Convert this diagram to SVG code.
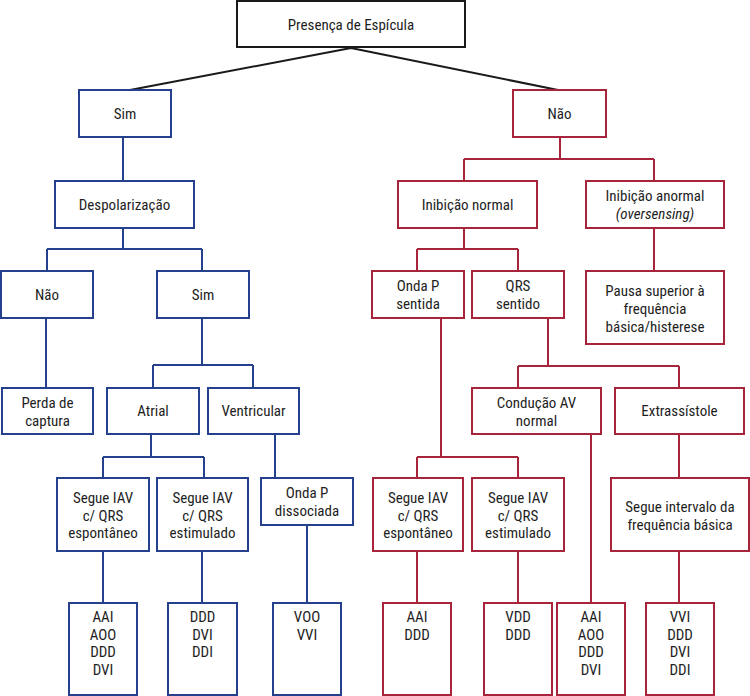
<svg xmlns="http://www.w3.org/2000/svg" width="750" height="696" viewBox="0 0 750 696">
<style>
rect{fill:#fff;stroke-width:2}
.k rect{stroke:#1a1a1a}
.b rect{stroke:#25418d}
.r rect{stroke:#a8243a}
text{font-family:"Liberation Sans Narrow","Roboto Condensed","Liberation Sans",Arial,sans-serif;font-size:15px;fill:#1e1e1e;text-anchor:middle}
.cb{fill:none;stroke:#25418d;stroke-width:2}
.cr{fill:none;stroke:#a8243a;stroke-width:2}
.ck{fill:none;stroke:#1a1a1a;stroke-width:2}
</style>
<rect x="0" y="0" width="750" height="696" style="stroke:none"/>
<g id="connectors">
<path class="ck" d="M351,48 L130,90 M351,48 L558,90"/>
<path class="cb" d="M123,137 V181 M123,228 V249 M47,249 H202 M47,249 V271 M202,249 V271 M46,318 V388 M202,318 V365 M153,365 H253 M153,365 V388 M253,365 V388 M151,434 V457 M103,457 H204 M103,457 V478 M204,457 V478 M275,434 V478 M103,551 V603 M202,551 V603 M307,525 V603"/>
<path class="cr" d="M560,137 V159 M464,159 H654 M464,159 V181 M654,159 V181 M464,228 V249 M417,249 H518 M417,249 V271 M518,249 V271 M654,228 V271 M441,318 V457 M417,457 H518 M417,457 V478 M518,457 V478 M548,318 V366 M518,366 H679 M518,366 V388 M679,366 V388 M591,434 V603 M679,434 V478 M417,551 V603 M518,551 V603 M679,551 V603"/>
</g>
<g id="n-root" class="k"><rect x="237" y="1" width="228" height="46"/><text x="351" y="30">Presença de Espícula</text></g>
<g id="n-sim" class="b"><rect x="79" y="90" width="92" height="47"/><text x="125" y="119">Sim</text></g>
<g id="n-despol" class="b"><rect x="55" y="181" width="139" height="47"/><text x="124.5" y="210">Despolarização</text></g>
<g id="n-nao2" class="b"><rect x="1" y="271" width="92" height="47"/><text x="47" y="300">Não</text></g>
<g id="n-sim2" class="b"><rect x="157" y="271" width="92" height="47"/><text x="203" y="300">Sim</text></g>
<g id="n-perda" class="b"><rect x="2" y="388" width="91" height="46"/><text x="47.5" y="408">Perda de</text><text x="47.5" y="426">captura</text></g>
<g id="n-atrial" class="b"><rect x="107" y="388" width="92" height="46"/><text x="153" y="416">Atrial</text></g>
<g id="n-ventr" class="b"><rect x="208" y="388" width="91" height="46"/><text x="253.5" y="416">Ventricular</text></g>
<g id="n-seg1" class="b"><rect x="57" y="478" width="92" height="73"/><text x="103" y="503">Segue IAV</text><text x="103" y="521">c/ QRS</text><text x="103" y="538">espontâneo</text></g>
<g id="n-seg2" class="b"><rect x="157" y="478" width="91" height="73"/><text x="202.5" y="503">Segue IAV</text><text x="202.5" y="521">c/ QRS</text><text x="202.5" y="538">estimulado</text></g>
<g id="n-ondad" class="b"><rect x="261" y="478" width="92" height="47"/><text x="307" y="498">Onda P</text><text x="307" y="516">dissociada</text></g>
<g id="n-b1" class="b"><rect x="69" y="603" width="68" height="92"/><text x="103" y="622">AAI</text><text x="103" y="640">AOO</text><text x="103" y="657">DDD</text><text x="103" y="675">DVI</text></g>
<g id="n-b2" class="b"><rect x="168" y="603" width="69" height="92"/><text x="202.5" y="622">DDD</text><text x="202.5" y="640">DVI</text><text x="202.5" y="657">DDI</text></g>
<g id="n-b3" class="b"><rect x="273" y="603" width="68" height="92"/><text x="307" y="622">VOO</text><text x="307" y="640">VVI</text></g>
<g id="n-nao" class="r"><rect x="513" y="90" width="93" height="47"/><text x="559.5" y="119">Não</text></g>
<g id="n-inibn" class="r"><rect x="398" y="181" width="139" height="47"/><text x="467.5" y="210">Inibição normal</text></g>
<g id="n-iniba" class="r"><rect x="586" y="181" width="138" height="47"/><text x="655" y="201">Inibição anormal</text><text x="655" y="219" font-style="italic">(oversensing)</text></g>
<g id="n-ondap" class="r"><rect x="372" y="271" width="92" height="47"/><text x="418" y="291">Onda P</text><text x="418" y="309">sentida</text></g>
<g id="n-qrs" class="r"><rect x="472" y="271" width="92" height="47"/><text x="518" y="291">QRS</text><text x="518" y="309">sentido</text></g>
<g id="n-pausa" class="r"><rect x="586" y="271" width="138" height="73"/><text x="655" y="296">Pausa superior à</text><text x="655" y="314">frequência</text><text x="655" y="332">básica/histerese</text></g>
<g id="n-cond" class="r"><rect x="472" y="388" width="129" height="46"/><text x="536.5" y="408">Condução AV</text><text x="536.5" y="426">normal</text></g>
<g id="n-extra" class="r"><rect x="615" y="388" width="129" height="46"/><text x="679.5" y="416">Extrassístole</text></g>
<g id="n-rseg1" class="r"><rect x="373" y="478" width="90" height="73"/><text x="418" y="503">Segue IAV</text><text x="418" y="521">c/ QRS</text><text x="418" y="538">espontâneo</text></g>
<g id="n-rseg2" class="r"><rect x="472" y="478" width="92" height="73"/><text x="518" y="503">Segue IAV</text><text x="518" y="521">c/ QRS</text><text x="518" y="538">estimulado</text></g>
<g id="n-rseg3" class="r"><rect x="611" y="478" width="138" height="73"/><text x="680" y="512">Segue intervalo da</text><text x="680" y="530">frequência básica</text></g>
<g id="n-rb1" class="r"><rect x="383" y="603" width="68" height="92"/><text x="417" y="622">AAI</text><text x="417" y="640">DDD</text></g>
<g id="n-rb2" class="r"><rect x="484" y="603" width="68" height="92"/><text x="518" y="622">VDD</text><text x="518" y="640">DDD</text></g>
<g id="n-rb3" class="r"><rect x="557" y="603" width="68" height="92"/><text x="591" y="622">AAI</text><text x="591" y="640">AOO</text><text x="591" y="657">DDD</text><text x="591" y="675">DVI</text></g>
<g id="n-rb4" class="r"><rect x="646" y="603" width="68" height="92"/><text x="680" y="622">VVI</text><text x="680" y="640">DDD</text><text x="680" y="657">DVI</text><text x="680" y="675">DDI</text></g>
</svg>
